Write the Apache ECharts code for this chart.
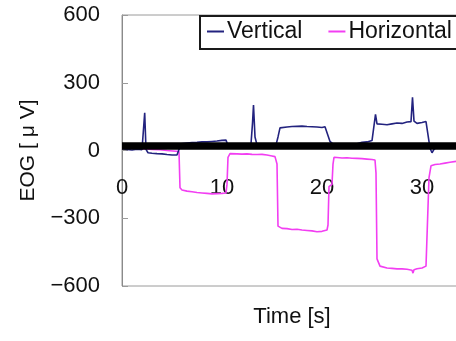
<!DOCTYPE html>
<html>
<head>
<meta charset="utf-8">
<script src="https://cdn.jsdelivr.net/npm/echarts@6/dist/echarts.min.js"></script>
<style>
  html, body { margin: 0; padding: 0; background: #fff; }
  #chart { width: 456px; height: 341px; }
</style>
</head>
<body>
<div id="chart"></div>
<script>
// Horizontal EOG (magenta)
var hTime = [0, 0.5, 1, 1.6, 2.2, 3, 3.8, 4.5, 5.4, 5.7, 5.8, 6.0, 6.5, 7, 7.5, 8, 8.5, 9, 9.5, 10, 10.4, 10.5, 10.6, 10.8, 11.0, 11.5, 12, 12.5, 13, 13.5, 14, 14.5, 15, 15.3, 15.5, 15.6, 16, 16.5, 17, 17.5, 18, 18.5, 19, 19.5, 20, 20.5, 20.6, 20.7, 21.0, 21.1, 21.2, 21.5, 22, 22.5, 23, 23.5, 24, 24.5, 25, 25.3, 25.4, 25.5, 25.8, 26, 26.5, 27, 27.5, 28, 28.5, 29, 29.1, 29.2, 29.5, 30, 30.4, 30.6, 30.7, 30.9, 31.3, 31.8, 32.3, 32.8, 33.4];
var hValue = [17, 14, 10, 7, 8, 5, 3, 0, -3, -5, -165, -175, -180, -183, -186, -188, -190, -192, -191, -190, -188, -150, -30, -14, -12, -15, -16, -15, -17, -18, -17, -20, -24, -27, -60, -335, -345, -346, -350, -349, -352, -354, -356, -360, -358, -352, -330, -160, -150, -60, -30, -31, -33, -32, -34, -35, -36, -38, -40, -42, -100, -480, -512, -515, -520, -522, -524, -524, -526, -530, -543, -528, -524, -520, -512, -510, -120, -68, -62, -60, -56, -52, -48];

// Vertical EOG (navy)
var vTime = [0, 0.5, 1, 1.5, 2.0, 2.15, 2.27, 2.4, 2.6, 3, 3.5, 4, 4.5, 5, 5.5, 5.7, 5.9, 6.5, 7, 7.5, 8, 8.5, 9, 9.5, 10, 10.4, 10.6, 11, 11.5, 12, 12.5, 12.9, 13.05, 13.15, 13.3, 13.5, 14, 14.5, 15, 15.4, 15.6, 15.8, 16.5, 17, 17.5, 18, 18.5, 19, 19.5, 20, 20.3, 20.5, 20.8, 21.1, 21.5, 22, 22.5, 23, 23.5, 24, 24.5, 25, 25.2, 25.35, 25.5, 26, 26.5, 27, 27.5, 28, 28.5, 28.9, 29.05, 29.2, 29.5, 30, 30.4, 30.6, 30.8, 31.0, 31.2, 31.5, 32, 32.5, 33, 33.4];
var vValue = [8, 5, 2, 6, 4, 10, 167, 5, -10, -12, -14, -15, -18, -20, -20, -15, 30, 33, 35, 36, 38, 38, 40, 42, 45, 46, 22, 24, 25, 26, 28, 30, 120, 201, 60, 25, 24, 25, 26, 25, 60, 100, 104, 106, 107, 108, 106, 105, 104, 102, 105, 112, 40, 28, 24, 22, 24, 26, 30, 36, 38, 44, 48, 160, 118, 116, 114, 118, 122, 120, 126, 128, 236, 130, 120, 124, 128, 126, 10, -10, 5, 15, 18, 20, 22, 24];

var seriesNames = ['Vertical', 'Horizontal'];
var xTicks = [0, 10, 20, 30];
var yTicks = [-600, -300, 0, 300, 600];
var baselineLevel = 20;

function pairs(t, v) { return t.map(function (x, i) { return [x, v[i]]; }); }

var chart = echarts.init(document.getElementById('chart'), null, { renderer: 'canvas' });
var font = '"Liberation Sans", Arial, sans-serif';

// layout constants
var gridLeft = 122, gridTop = 15, gridWidth = 340, gridHeight = 271;
var yMin = -600, yMax = 600;
// put the x axis (labels + title) at y = 0, measured from grid bottom
var xAxisOffset = -gridHeight * (0 - yMin) / (yMax - yMin);

chart.setOption({
  animation: false,
  backgroundColor: '#fff',
  grid: {
    left: gridLeft, top: gridTop, width: gridWidth, height: gridHeight,
    containLabel: false,
    outerBoundsMode: 'none',
    show: true, borderColor: '#9a9a9a', borderWidth: 1, backgroundColor: 'transparent'
  },
  graphic: [{
    type: 'rect', z: 20, silent: true,
    shape: { x: 200, y: 16, width: 290, height: 33 },
    style: { fill: '#fff', stroke: '#1a1a1a', lineWidth: 2 }
  }],
  legend: {
    data: seriesNames,
    left: 199, top: 15,
    z: 30,
    orient: 'horizontal',
    itemWidth: 17, itemHeight: 2,
    itemGap: 26,
    icon: 'rect',
    padding: [5, 0, 5, 8],
    borderWidth: 0,
    backgroundColor: 'transparent',
    textStyle: { fontFamily: font, fontSize: 23, color: '#111', padding: [0, 0, 0, -2] }
  },
  xAxis: {
    type: 'value',
    min: 0, max: 34, interval: 10,
    position: 'bottom',
    offset: xAxisOffset,
    name: 'Time [s]',
    nameLocation: 'middle',
    nameGap: 155,
    nameTextStyle: { fontFamily: font, fontSize: 22, color: '#111' },
    axisLine: { show: false, onZero: false },
    axisTick: { show: false },
    splitLine: { show: false },
    axisLabel: {
      margin: 26,
      fontFamily: font, fontSize: 22, color: '#111',
      formatter: function (v) { return xTicks.indexOf(v) >= 0 ? String(v) : ''; }
    }
  },
  yAxis: {
    type: 'value',
    min: yMin, max: yMax, interval: 300,
    name: 'EOG [ μ V]',
    nameLocation: 'middle',
    nameGap: 83,
    nameRotate: 90,
    nameTextStyle: { fontFamily: font, fontSize: 21, color: '#111' },
    axisLine: { show: true, onZero: false, lineStyle: { color: '#8a8a8a', width: 1 } },
    axisTick: { show: true, inside: true, length: 6, lineStyle: { color: '#9a9a9a' } },
    splitLine: { show: false },
    axisLabel: {
      margin: 22,
      fontFamily: font, fontSize: 22, color: '#111',
      formatter: function (v) {
        if (yTicks.indexOf(v) < 0) return '';
        return v < 0 ? '\u2212' + Math.abs(v) : String(v);
      }
    }
  },
  series: [
    {
      name: 'Vertical', type: 'line', showSymbol: false, symbol: 'none',
      data: pairs(vTime, vValue),
      lineStyle: { color: '#23237f', width: 1.6 },
      itemStyle: { color: '#23237f' },
      z: 3
    },
    {
      name: 'Horizontal', type: 'line', showSymbol: false, symbol: 'none',
      data: pairs(hTime, hValue),
      lineStyle: { color: '#f23ef2', width: 1.6 },
      itemStyle: { color: '#f23ef2' },
      z: 2
    },
    {
      name: 'baseline', type: 'line', data: [], z: 6, silent: true,
      markLine: {
        silent: true, symbol: 'none',
        label: { show: false },
        emphasis: { disabled: true },
        lineStyle: { color: '#000', width: 7.5, type: 'solid' },
        data: [{ yAxis: baselineLevel }]
      }
    }
  ]
});
</script>
</body>
</html>
